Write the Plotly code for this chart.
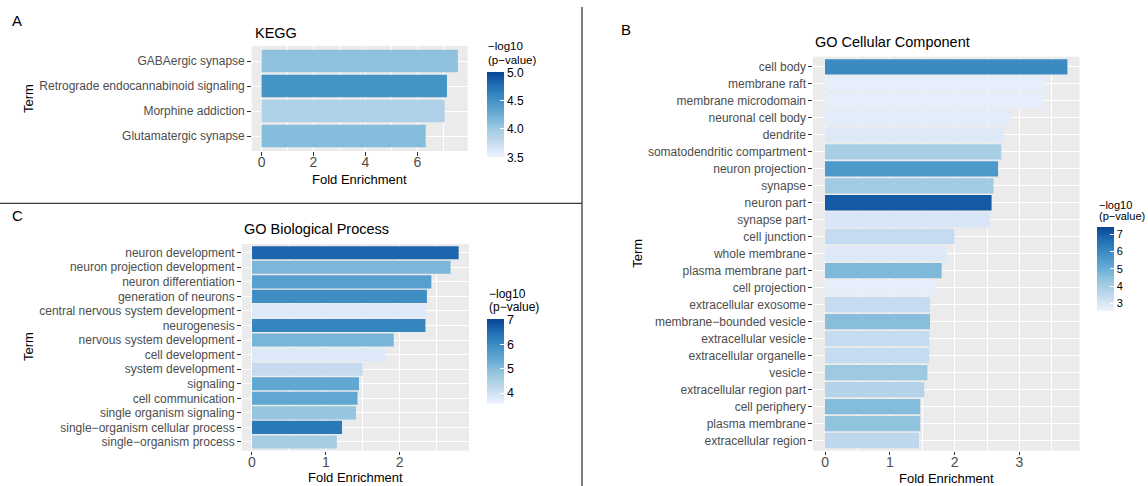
import plotly.graph_objects as go

W, H = 1148, 486

# ---- KEGG pathways ----
kegg_terms = ["GABAergic synapse", "Retrograde endocannabinoid signaling",
              "Morphine addiction", "Glutamatergic synapse"]
kegg_fold = [7.56, 7.14, 7.05, 6.32]
kegg_logp = [4.08, 4.48, 3.90, 4.12]
kegg_limits = (3.5, 5.0)
kegg_cticks = [3.5, 4.0, 4.5, 5.0]

# ---- GO Cellular Component ----
cc_terms = ["cell body", "membrane raft", "membrane microdomain", "neuronal cell body",
            "dendrite", "somatodendritic compartment", "neuron projection", "synapse",
            "neuron part", "synapse part", "cell junction", "whole membrane",
            "plasma membrane part", "cell projection", "extracellular exosome",
            "membrane-bounded vesicle", "extracellular vesicle", "extracellular organelle",
            "vesicle", "extracellular region part", "cell periphery", "plasma membrane",
            "extracellular region"]
cc_fold = [3.74, 3.40, 3.38, 2.86, 2.76, 2.72, 2.67, 2.60, 2.57, 2.54, 2.00, 1.88,
           1.80, 1.72, 1.62, 1.62, 1.61, 1.61, 1.58, 1.53, 1.47, 1.47, 1.45]
cc_logp = [6.00, 2.75, 2.75, 2.80, 2.90, 4.00, 5.60, 4.15, 7.05, 3.00, 3.40, 2.90,
           4.70, 2.75, 3.40, 4.55, 3.40, 3.40, 4.20, 3.75, 4.60, 4.40, 3.55]
cc_limits = (2.57, 7.44)
cc_cticks = [3, 4, 5, 6, 7]

# ---- GO Biological Process ----
bp_terms = ["neuron development", "neuron projection development", "neuron differentiation",
            "generation of neurons", "central nervous system development", "neurogenesis",
            "nervous system development", "cell development", "system development",
            "signaling", "cell communication", "single organism signaling",
            "single-organism cellular process", "single-organism process"]
bp_fold = [2.80, 2.69, 2.43, 2.37, 2.35, 2.35, 1.92, 1.81, 1.50, 1.45, 1.43, 1.41, 1.22, 1.15]
bp_logp = [6.60, 5.10, 5.60, 5.95, 3.80, 6.10, 5.15, 3.80, 4.13, 5.45, 5.45, 4.80, 6.30, 4.60]
bp_limits = (3.55, 7.04)
bp_cticks = [4, 5, 6, 7]

BLUES = ["#eff3ff", "#c6dbef", "#9ecae1", "#6baed6", "#4292c6", "#2171b5", "#084594"]
SCALE = [[i / (len(BLUES) - 1), c] for i, c in enumerate(BLUES)]

FONT = "Liberation Sans, Arial, Helvetica, sans-serif"
GREY30 = "#4d4d4d"


def fx(p):
    return p / W


def fy(p):
    return 1 - p / H


def disp(s):
    return s.replace("-", "\u2212")


# panel geometry in pixels: (left, right, top, bottom)
panels = [
    dict(terms=kegg_terms, fold=kegg_fold, logp=kegg_logp, box=(251.7, 467.7, 46, 151),
         dtick=2, minor=1, ca="coloraxis", limits=kegg_limits, cticks=kegg_cticks,
         cfmt="{:.1f}", cbar=(486.5, 72.3, 85, 17), cfs=12),
    dict(terms=cc_terms, fold=cc_fold, logp=cc_logp, box=(812.9, 1079.5, 56.7, 450.7),
         dtick=1, minor=0.5, ca="coloraxis2", limits=cc_limits, cticks=cc_cticks,
         cfmt="{:d}", cbar=(1097.3, 226.7, 84, 17.4), cfs=11),
    dict(terms=bp_terms, fold=bp_fold, logp=bp_logp, box=(241.6, 469, 244, 450.7),
         dtick=1, minor=0.5, ca="coloraxis3", limits=bp_limits, cticks=bp_cticks,
         cfmt="{:d}", cbar=(487.3, 319, 85.3, 17), cfs=12.5),
]

fig = go.Figure()
layout = dict(
    width=W, height=H, margin=dict(l=0, r=0, t=0, b=0),
    paper_bgcolor="white", plot_bgcolor="#EBEBEB",
    font=dict(family=FONT), showlegend=False, bargap=0.1,
)

for i, p in enumerate(panels):
    sfx = "" if i == 0 else str(i + 1)
    labels = [disp(t) for t in p["terms"]]
    fig.add_trace(go.Bar(
        x=p["fold"], y=labels, orientation="h", width=0.9,
        marker=dict(color=p["logp"], coloraxis=p["ca"], line=dict(width=0)),
        xaxis="x" + sfx, yaxis="y" + sfx,
        hovertemplate="%{y}: %{x}<extra></extra>",
    ))
    l, r, t, b = p["box"]
    xmax = max(p["fold"])
    n = len(labels)
    layout["xaxis" + sfx] = dict(
        domain=[fx(l), fx(r)], anchor="y" + sfx,
        range=[-0.05 * xmax, 1.05 * xmax], tick0=0, dtick=p["dtick"],
        showgrid=True, gridcolor="white", gridwidth=1.1, zeroline=False,
        ticks="outside", ticklen=3.5, tickwidth=1, tickcolor="#333333",
        tickfont=dict(size=14, color=GREY30, family=FONT),
        ticklabelstandoff=-5,
        minor=dict(tick0=0, dtick=p["minor"], showgrid=True, gridcolor="white",
                   gridwidth=0.5),
        showline=False, fixedrange=True,
    )
    layout["yaxis" + sfx] = dict(
        domain=[fy(b), fy(t)], anchor="x" + sfx, type="category",
        categoryorder="array", categoryarray=labels,
        range=[n - 0.4, -0.6],
        showgrid=True, gridcolor="white", gridwidth=1.1, zeroline=False,
        ticks="outside", ticklen=3.5, tickwidth=1, tickcolor="#333333",
        tickfont=dict(size=12, color=GREY30, family=FONT),
        showline=False, fixedrange=True,
    )
    cx, ctop, clen, cth = p["cbar"]
    lo, hi = p["limits"]
    layout[p["ca"]] = dict(
        colorscale=SCALE, cmin=lo, cmax=hi,
        colorbar=dict(
            x=fx(cx), xanchor="left", y=fy(ctop), yanchor="top",
            len=clen, lenmode="pixels", thickness=cth, thicknessmode="pixels",
            xpad=0, ypad=0, outlinewidth=0,
            ticks="inside", ticklen=4, tickwidth=1, tickcolor="white",
            tickvals=p["cticks"], ticktext=[p["cfmt"].format(v) for v in p["cticks"]],
            tickfont=dict(size=p["cfs"], color="black", family=FONT),
        ),
    )

fig.update_layout(**layout)

ann = []


def text(x, y, s, size, color="black", xanchor="left", angle=0):
    ann.append(dict(x=fx(x), y=fy(y), xref="paper", yref="paper", text=s,
                    showarrow=False, xanchor=xanchor, yanchor="middle",
                    textangle=angle, font=dict(size=size, color=color, family=FONT)))


# panel letters
text(17, 21, "A", 15, xanchor="center")
text(626, 29, "B", 15, xanchor="center")
text(17.5, 215.6, "C", 15, xanchor="center")

# plot titles
text(252.5, 33.3, "KEGG", 14.5)
text(813, 42.3, "GO Cellular Component", 14.5)
text(241.5, 229.3, "GO Biological Process", 14.5)

# axis titles
text((251.7 + 467.7) / 2, 179.5, "Fold Enrichment", 13, xanchor="center")
text((812.9 + 1079.5) / 2, 478.5, "Fold Enrichment", 13, xanchor="center")
text((241.6 + 469) / 2, 477.5, "Fold Enrichment", 13, xanchor="center")
text(28.5, 98.5, "Term", 13, xanchor="center", angle=-90)
text(638, 253.7, "Term", 13, xanchor="center", angle=-90)
text(28, 347, "Term", 13, xanchor="center", angle=-90)

# colour bar titles
for (x0, y1, y2, fs) in [(486, 46, 60, 11.5), (1096.5, 205.2, 216, 11), (486.5, 294, 306.5, 12)]:
    text(x0, y1, "\u2212log10", fs)
    text(x0, y2, "(p\u2212value)", fs)

fig.update_layout(annotations=ann)

# panel separators
fig.add_shape(type="line", xref="paper", yref="paper",
              x0=fx(582), x1=fx(582), y0=fy(7), y1=fy(486),
              line=dict(color="#3a3a3a", width=1.3))
fig.add_shape(type="line", xref="paper", yref="paper",
              x0=0, x1=fx(582), y0=fy(203.3), y1=fy(203.3),
              line=dict(color="#3a3a3a", width=1.3))

fig.write_html("out.html")
